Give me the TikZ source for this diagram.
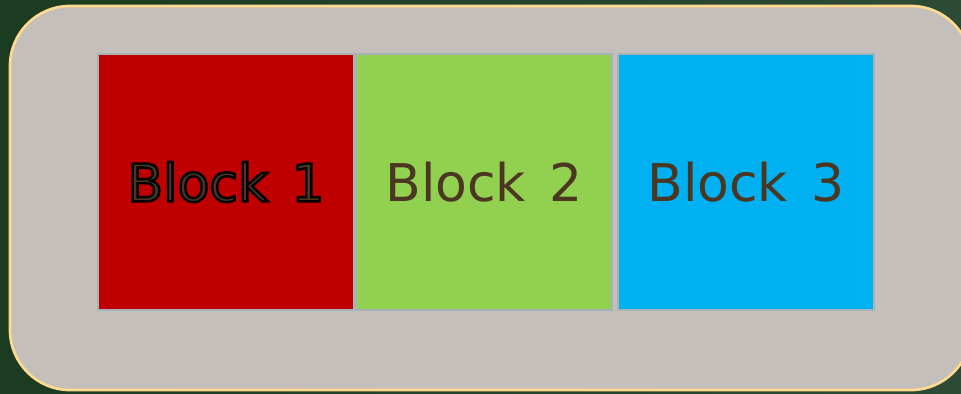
\documentclass[tikz,border=0pt]{standalone}
\usepackage{fontspec}
\setmainfont{DejaVu Sans}
\usetikzlibrary{positioning}
\definecolor{bggreen}{HTML}{1B3C20}
\definecolor{bggreenlight}{HTML}{2C4A36}
\definecolor{panelgray}{HTML}{C4BFBB}
\definecolor{panelrim}{HTML}{FFD98E}
\definecolor{blockrim}{HTML}{A7B3B6}
\definecolor{blockred}{HTML}{C00000}
\definecolor{blockgreen}{HTML}{92D050}
\definecolor{blockblue}{HTML}{00B0F0}
\definecolor{labelbrown}{HTML}{4A3621}
\newcommand{\blockfont}{\fontsize{39}{45}\selectfont\spaceskip=0.45em}
% text drawn with a black outline (fill, then stroke)
\newcommand{\outlined}[1]{\special{pdf:code q 2 Tr 1.8 w 0 G}#1\special{pdf:code Q}}
\tikzset{
  block/.style={draw=blockrim, line width=1.5pt, minimum width=192pt,
    minimum height=192pt, inner sep=0pt, outer sep=0pt, text=labelbrown,
    font=\blockfont},
}
\begin{document}
\begin{tikzpicture}[x=0.75pt, y=-0.75pt]
    % Background
    \useasboundingbox (0, 0) rectangle (961, 393);
    \shade[left color=bggreen, right color=bggreenlight] (0, 0) rectangle (961, 393);

    % Panel
    \draw[fill=panelgray, draw=panelrim, line width=2pt, rounded corners=45pt]
        (10, 6) rectangle (971, 390);

    % Blocks
    \node[block, fill=blockred] (b1) at (226, 182) {\outlined{Block 1}};
    \node[block, fill=blockgreen, right=1.5pt of b1] (b2) {Block 2};
    \node[block, fill=blockblue, right=4.5pt of b2] (b3) {Block 3};
\end{tikzpicture}
\end{document}
